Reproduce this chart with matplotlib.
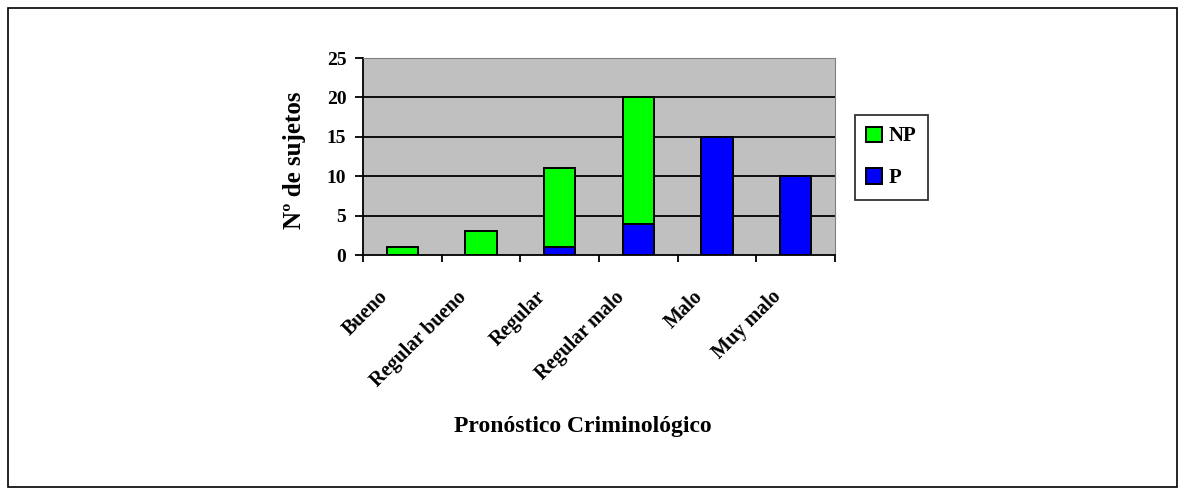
import matplotlib.pyplot as plt
import matplotlib.transforms as mtransforms
import numpy as np
from matplotlib.patches import Rectangle

categorias = ['Bueno', 'Regular bueno', 'Regular', 'Regular malo', 'Malo', 'Muy malo']
p = [0, 0, 1, 4, 15, 10]
np_ = [1, 3, 10, 16, 0, 0]

plt.rcParams['font.family'] = ['Liberation Serif', 'DejaVu Serif']
plt.rcParams['font.weight'] = 'bold'

fig = plt.figure(figsize=(11.85, 4.95), dpi=100)
ax = fig.add_axes([0.3063, 0.4848, 0.3983, 0.3980])
ax.set_facecolor('#C0C0C0')

x = np.arange(len(categorias))
ax.bar(x, p, width=0.4, color='#0000FF', edgecolor='black', linewidth=1.4, label='P', zorder=3)
ax.bar(x, np_, width=0.4, bottom=p, color='#00FF00', edgecolor='black', linewidth=1.4, label='NP', zorder=3)

ax.set_xlim(-0.5, len(categorias) - 0.5)
ax.set_ylim(0, 25)
ax.set_yticks(range(0, 26, 5))
for v in range(5, 25, 5):
    ax.axhline(v, color='black', linewidth=1.3, zorder=1)

# marcas entre categorías
ax.set_xticks(np.arange(-0.5, len(categorias), 1))
ax.set_xticklabels([])
ax.set_xticks(x, minor=True)
ax.set_xticklabels(categorias, minor=True, rotation=45, ha='right', va='center',
                   rotation_mode='anchor', fontsize=14.5, fontweight='bold')
ax.tick_params(axis='x', which='minor', length=0, pad=0)
ax.tick_params(axis='x', which='major', length=5, width=1.3, direction='out')
ax.tick_params(axis='y', length=6, width=1.3, direction='out', labelsize=14, pad=6)

offset = mtransforms.ScaledTranslation(-0.17, -0.39, fig.dpi_scale_trans)
for lbl in ax.get_xticklabels(minor=True):
    lbl.set_transform(lbl.get_transform() + offset)

for s in ['top', 'right']:
    ax.spines[s].set_color('#808080')
for s in ['left', 'bottom']:
    ax.spines[s].set_linewidth(1.3)

ax.set_ylabel('Nº de sujetos', fontsize=18, fontweight='bold')
ax.yaxis.set_label_coords(-0.12, 0.48)
ax.set_xlabel('Pronóstico Criminológico', fontsize=17, fontweight='bold')
ax.xaxis.set_label_coords(0.465, -0.815)

handles, labels = ax.get_legend_handles_labels()
leg = fig.legend(handles[::-1], labels[::-1], loc='upper left',
                 bbox_to_anchor=(855 / 1185, 1 - 115 / 495),
                 frameon=True, fancybox=False, edgecolor='black', fontsize=15,
                 handlelength=0.75, handleheight=0.75, handletextpad=0.3, labelspacing=1.05,
                 borderpad=0.55, borderaxespad=0)
leg.get_frame().set_linewidth(1.3)

fig.patches.append(Rectangle((0.007, 0.016), 0.986, 0.968, transform=fig.transFigure,
                             fill=False, edgecolor='black', linewidth=1.2))

fig.savefig('out.png', dpi=100, facecolor='white')
